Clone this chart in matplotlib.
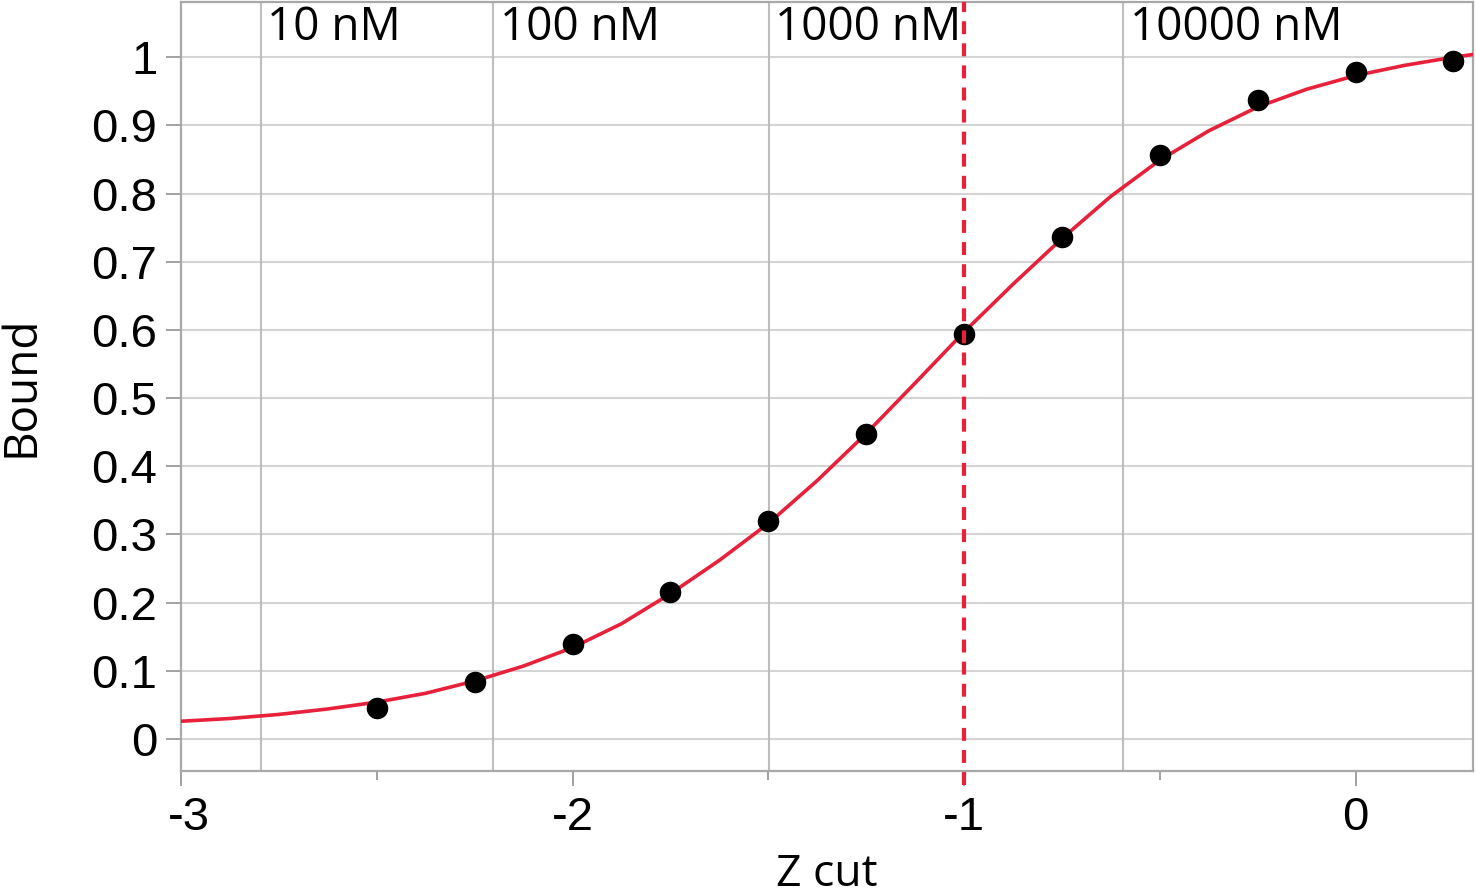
import matplotlib
matplotlib.use("Agg")
import matplotlib.pyplot as plt
import matplotlib.transforms as mtransforms

plt.rcParams['axes.unicode_minus'] = False
plt.rcParams['font.family'] = ['Liberation Sans', 'DejaVu Sans']

# measured points
z_cut = [-2.5, -2.25, -2.0, -1.75, -1.5, -1.25, -1.0, -0.75, -0.5, -0.25, 0.0, 0.25]
bound = [0.046, 0.084, 0.139, 0.216, 0.319, 0.448, 0.594, 0.737, 0.857, 0.937, 0.978, 0.994]

# fitted curve
fit_x = [-3.0, -2.875, -2.75, -2.625, -2.5, -2.375, -2.25, -2.125, -2.0, -1.875, -1.75,
         -1.625, -1.5, -1.375, -1.25, -1.125, -1.0, -0.875, -0.75, -0.625, -0.5,
         -0.375, -0.25, -0.125, 0.0, 0.125, 0.25, 0.3]
fit_y = [0.026, 0.030, 0.036, 0.044, 0.054, 0.067, 0.085, 0.107, 0.134, 0.169, 0.213,
         0.262, 0.316, 0.379, 0.448, 0.522, 0.597, 0.667, 0.734, 0.796, 0.849,
         0.892, 0.927, 0.953, 0.973, 0.988, 1.000, 1.004]

# concentration reference lines
conc_x = [-2.795, -2.202, -1.499, -0.593]
conc_labels = ['10 nM', '100 nM', '1000 nM', '10000 nM']

cut_z = -1.0

fig = plt.figure(figsize=(14.76, 8.96), dpi=100)
ax = fig.add_axes([0.1226, 0.1395, 0.8754, 0.8583])

red = '#e8203a'
grid_c = '#d4d4d4'

for yv in [i / 10 for i in range(11)]:
    ax.axhline(yv, color=grid_c, lw=1.5, zorder=0)
for cx, lab in zip(conc_x, conc_labels):
    ax.axvline(cx, color='#bdbdbd', lw=1.5, zorder=0)
    ax.annotate(lab, (cx, 1), xycoords=('data', 'axes fraction'),
                xytext=(4.5, -19), textcoords='offset points',
                va='center', ha='left', fontsize=33, family=['Open Sans', 'DejaVu Sans'],
                zorder=1)

ax.plot(fit_x, fit_y, color=red, lw=2.6, zorder=3, solid_joinstyle='round')
ax.plot(z_cut, bound, 'o', color='black', ms=14.5, zorder=4)
ax.axvline(cut_z, ymin=-0.018, ymax=1, color=red, lw=3, ls=(0, (3.1, 2.2)),
           clip_on=False, zorder=5)

ax.set_xlim(-3, 0.3)
ax.set_ylim(-0.047, 1.081)
ax.set_xticks([-3, -2, -1, 0])
ax.set_xticklabels(['-3', '-2', '-1', '0'])
ax.set_xticks([-2.5, -1.5, -0.5], minor=True)
ax.set_yticks([i / 10 for i in range(11)])
ax.set_yticklabels(['0', '0.1', '0.2', '0.3', '0.4', '0.5', '0.6', '0.7', '0.8', '0.9', '1'])

ax.tick_params(axis='both', which='major', labelsize=34, color='#9a9a9a',
               width=1.3, length=11)
ax.tick_params(axis='x', which='major', pad=7)
ax.tick_params(axis='y', which='major', pad=6)
ax.tick_params(axis='x', which='minor', length=6.5, width=1.3, color='#9a9a9a')

# first x label sits a little to the right of its tick
first = ax.get_xticklabels()[0]
first.set_transform(first.get_transform() +
                    mtransforms.ScaledTranslation(8 / 100, 0, fig.dpi_scale_trans))

for s in ax.spines.values():
    s.set_color('#a8a8a8')
    s.set_linewidth(1.6)

ax.set_xlabel('Z cut', fontsize=32, family=['Open Sans', 'DejaVu Sans'], labelpad=9)
ax.set_ylabel('Bound', fontsize=33, family=['Open Sans', 'DejaVu Sans'], labelpad=34)

fig.savefig('out.png', dpi=100)
